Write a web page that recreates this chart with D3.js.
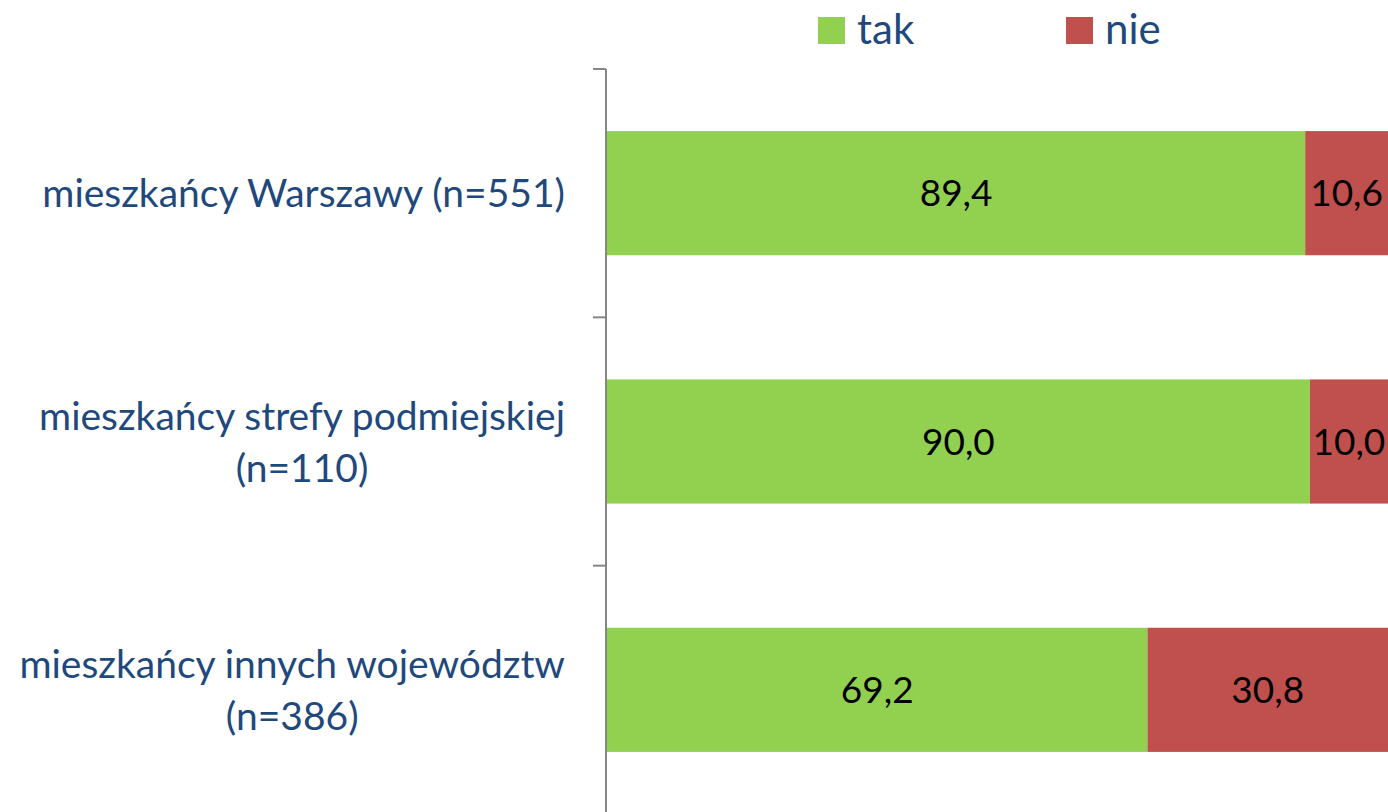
<!DOCTYPE html>
<html><head><meta charset="utf-8">
<script src="https://cdn.jsdelivr.net/npm/d3@7"></script>
<style>html,body{margin:0;padding:0;background:#fff;overflow:hidden}</style>
</head><body>
<svg id="c" width="1388" height="812"></svg>
<script>
const categories = [
  ["mieszkańcy Warszawy (n=551)"],
  ["mieszkańcy strefy podmiejskiej", "(n=110)"],
  ["mieszkańcy innych województw", "(n=386)"]
];
const seriesNames = ["tak", "nie"];
const takValues = [89.4, 90.0, 69.2];
const nieValues = [10.6, 10.0, 30.8];
const colors = ["#92D050", "#C0504D"];

const font = "Lato, 'Open Sans', sans-serif";
const svg = d3.select("#c");
const ids = categories.map((d, i) => i);
const y = d3.scaleBand().domain(ids).range([69, 814]).paddingInner(0.5).paddingOuter(0.25);
const x = d3.scaleLinear().domain([0, 100]).range([607, 1388]);

const stackData = ids.map(i => ({i, tak: takValues[i], nie: nieValues[i]}));
const stacked = d3.stack().keys(seriesNames)(stackData);

stacked.forEach((s, si) => {
  svg.append("g").selectAll("rect").data(s).join("rect")
    .attr("x", d => x(d[0]))
    .attr("width", d => x(d[1]) - x(d[0]))
    .attr("y", d => y(d.data.i))
    .attr("height", y.bandwidth())
    .attr("fill", colors[si]);
  svg.append("g").selectAll("text").data(s).join("text")
    .attr("x", d => (x(d[0]) + x(d[1])) / 2)
    .attr("y", d => y(d.data.i) + y.bandwidth() / 2)
    .attr("dy", "0.36em")
    .attr("text-anchor", "middle")
    .attr("font-family", font)
    .attr("font-size", 37)
    .attr("fill", "#000")
    .text(d => (d[1] - d[0]).toFixed(1).replace(".", ","));
});

// axis
const band = y.step();
const ax = svg.append("g").attr("stroke", "#868686").attr("stroke-width", 2);
ax.append("line").attr("x1", 606).attr("x2", 606).attr("y1", 69).attr("y2", 812);
const tickYs = ids.map(i => y(i) + y.bandwidth() / 2 - band / 2);
tickYs.forEach(t => ax.append("line").attr("x1", 593).attr("x2", 606).attr("y1", t).attr("y2", t));

// category labels
const lg = svg.append("g").attr("font-family", font).attr("font-size", 39).attr("fill", "#1F497D");
categories.forEach((lines, i) => {
  const g = lg.append("g");
  const cy = y(i) + y.bandwidth() / 2;
  const lh = 52;
  const texts = lines.map((l, j) => g.append("text")
    .attr("text-anchor", "middle")
    .attr("y", cy + (j - (lines.length - 1) / 2) * lh)
    .attr("dy", "0.36em")
    .text(l));
  const w = d3.max(texts, t => t.node().getComputedTextLength());
  texts.forEach(t => t.attr("x", 565 - w / 2));
});

// legend
const legX = [818, 1066];
seriesNames.forEach((n, i) => {
  svg.append("rect").attr("x", legX[i]).attr("y", 17).attr("width", 27).attr("height", 27).attr("fill", colors[i]);
  svg.append("text").attr("x", legX[i] + 39).attr("y", 44)
    .attr("font-family", font).attr("font-size", 42).attr("fill", "#1F497D").text(n);
});
</script>
</body></html>
